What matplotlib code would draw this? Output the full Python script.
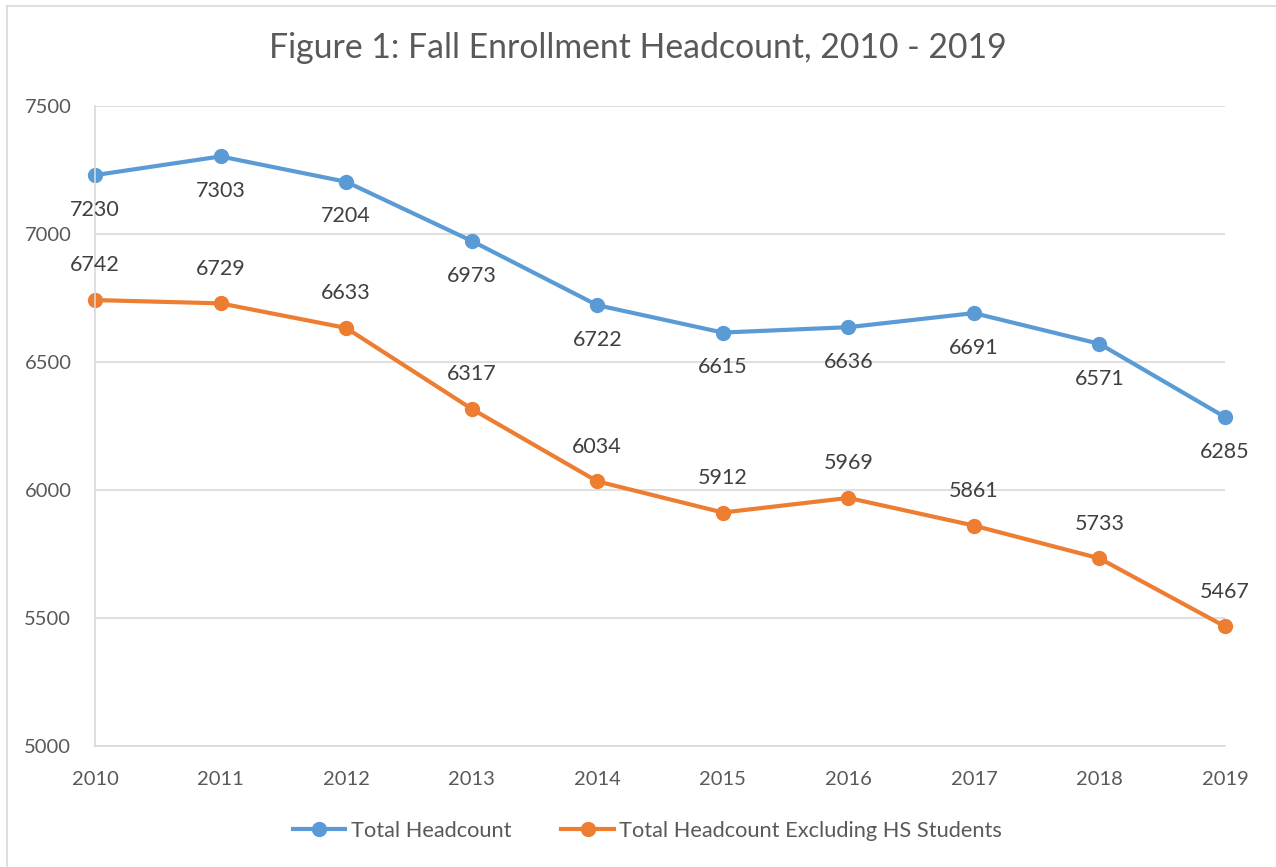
import matplotlib
matplotlib.use("Agg")
from matplotlib import pyplot as plt
from matplotlib.lines import Line2D

years = [2010, 2011, 2012, 2013, 2014, 2015, 2016, 2017, 2018, 2019]
total = [7230, 7303, 7204, 6973, 6722, 6615, 6636, 6691, 6571, 6285]
excl_hs = [6742, 6729, 6633, 6317, 6034, 5912, 5969, 5861, 5733, 5467]
yticks = [5000, 5500, 6000, 6500, 7000, 7500]

blue = "#5B9BD5"
orange = "#ED7D31"

plt.rcParams['font.family'] = ['Lato', 'DejaVu Sans']

fig = plt.figure(figsize=(12.76, 8.67), dpi=100)
ax = fig.add_axes([95/1276, 121/867, 1130/1276, 640/867])

ax.plot(years, total, color=blue, lw=3, marker='o', ms=10, label="Total Headcount",
        clip_on=False)
ax.plot(years, excl_hs, color=orange, lw=3, marker='o', ms=10,
        label="Total Headcount Excluding HS Students", clip_on=False)

# data labels: blue below, orange above
for x, y in zip(years, total):
    ax.annotate(str(y), (x, y), xytext=(0, -25), textcoords='offset points',
                ha='center', va='center', fontsize=15.5, color='#404040')
for x, y in zip(years, excl_hs):
    ax.annotate(str(y), (x, y), xytext=(0, 25), textcoords='offset points',
                ha='center', va='center', fontsize=15.5, color='#404040')

ax.set_xlim(2010, 2019)
ax.set_ylim(5000, 7500)
ax.set_xticks(years)
ax.set_yticks(yticks)
ax.tick_params(axis='both', length=0, labelsize=14.5, labelcolor='#595959')
ax.tick_params(axis='x', pad=18)
ax.tick_params(axis='y', pad=17)
ax.grid(axis='y', color='#D9D9D9', lw=1.2)
ax.set_axisbelow(True)
for s in ['top', 'right']:
    ax.spines[s].set_visible(False)
ax.spines['left'].set_color('#D9D9D9')
ax.spines['bottom'].set_color('#D9D9D9')
ax.spines['left'].set_linewidth(1.2)
ax.spines['bottom'].set_linewidth(1.2)

fig.text(0.5, 1 - 48/867, "Figure 1: Fall Enrollment Headcount, 2010 - 2019",
         ha='center', va='center', fontsize=24.3, color='#595959')

ax.legend(loc='center', bbox_to_anchor=(0.489, (746 - 831)/640),
          bbox_transform=ax.transAxes, ncol=2, frameon=False, fontsize=15.7,
          labelcolor='#595959', handlelength=2.4, columnspacing=2.3,
          handletextpad=0.25)

# chart border (left and top edges visible)
fig.add_artist(Line2D([7/1276, 7/1276], [0, 1 - 6/867], color='#D9D9D9', lw=1.2))
fig.add_artist(Line2D([7/1276, 1], [1 - 6/867, 1 - 6/867], color='#D9D9D9', lw=1.2))

fig.savefig("out.png", dpi=100)
